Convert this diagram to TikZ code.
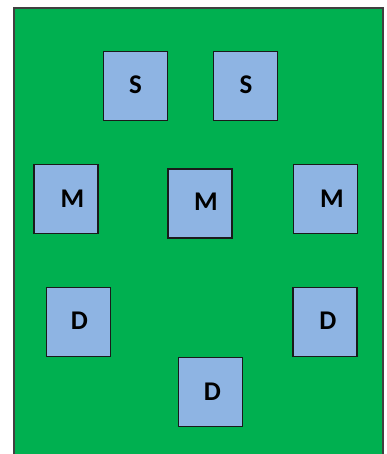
\documentclass[tikz,border=0pt]{standalone}
\usepackage{fontspec}
\setmainfont{Carlito}
\definecolor{fieldgreen}{HTML}{00B050}
\definecolor{boxblue}{HTML}{8EB4E3}
\definecolor{boxedge}{HTML}{1A1A1A}
\definecolor{fieldedge}{HTML}{404040}
\begin{document}
\begin{tikzpicture}[x=1pt,y=-1pt,
  playerbox/.style={draw=boxedge,line width=1.5pt,fill=boxblue,minimum width=64pt,minimum height=69pt,inner sep=0pt},
  lbl/.style={font=\fontsize{27}{27}\selectfont\bfseries,inner sep=0pt}]
\useasboundingbox (0,0) rectangle (386,454);
\fill[white] (0,0) rectangle (386,454);
\begin{scope}
\clip (0,0) rectangle (386,454);
\draw[fill=fieldgreen,draw=fieldedge,line width=1.2pt] (14,8) rectangle (383,470);
\end{scope}
% strikers
\node[playerbox] (s1) at (135.5,86) {};
\node[playerbox] (s2) at (245.5,86) {};
% midfielders
\node[playerbox] (m1) at (66,199) {};
\node[playerbox] (m2) at (200,203.5) {};
\node[playerbox] (m3) at (325.5,199) {};
% defenders
\node[playerbox] (d1) at (78.5,322) {};
\node[playerbox] (d2) at (325,322) {};
\node[playerbox] (d3) at (210.5,392) {};
% labels
\node[lbl] (ls1) at (135.5,84.5) {S};
\node[lbl] (ls2) at (246,84.5) {S};
\node[lbl] (lm1) at (72.5,198.5) {M};
\node[lbl] (lm2) at (206,202) {M};
\node[lbl] (lm3) at (332,198.5) {M};
\node[lbl] (ld1) at (79.5,320.5) {D};
\node[lbl] (ld2) at (328,320.5) {D};
\node[lbl] (ld3) at (212.5,392) {D};
\end{tikzpicture}
\end{document}
